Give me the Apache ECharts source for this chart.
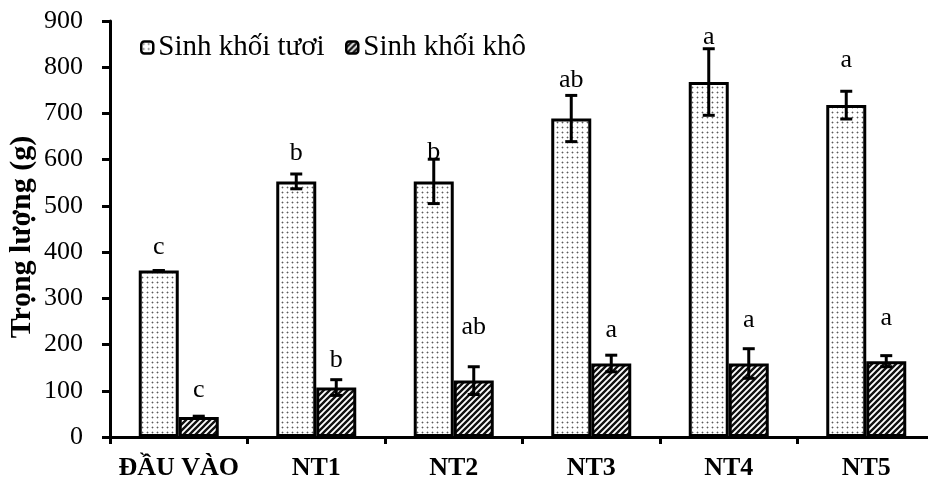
<!DOCTYPE html>
<html>
<head>
<meta charset="utf-8">
<script src="https://cdn.jsdelivr.net/npm/echarts@6/dist/echarts.min.js"></script>
<style>html,body{margin:0;padding:0;background:#fff}#c{width:928px;height:480px}</style>
</head>
<body>
<div id="c"></div>
<script>
const categories = ['ĐẦU VÀO', 'NT1', 'NT2', 'NT3', 'NT4', 'NT5'];
const seriesNames = ['Sinh khối tươi', 'Sinh khối khô'];
const freshMean = [360, 553, 553, 689, 768, 718];
const freshSD = [0, 16, 48, 50, 72, 30];
const freshLetters = ['c', 'b', 'b', 'ab', 'a', 'a'];
const freshLetterAt = [411, 614, 616, 772, 865, 815];
const dryMean = [43, 107, 122, 159, 159, 164];
const drySD = [2, 17, 30, 18, 32, 12];
const dryLetters = ['c', 'b', 'ab', 'a', 'a', 'a'];
const dryLetterAt = [102, 167, 238, 231, 253, 257];
const yTicks = [0, 100, 200, 300, 400, 500, 600, 700, 800, 900];

const FONT = '"Liberation Serif", "Times New Roman", serif';
const BAR_W = 40;

function dotPattern() {
  const c = document.createElement('canvas');
  c.width = 5; c.height = 5;
  const g = c.getContext('2d');
  g.fillStyle = '#fff'; g.fillRect(0, 0, 5, 5);
  g.fillStyle = '#5a5a5a'; g.fillRect(2, 2, 1, 1);
  g.fillStyle = '#c4c4c4'; g.fillRect(1, 2, 1, 1); g.fillRect(2, 1, 1, 1); g.fillRect(3, 2, 1, 1); g.fillRect(2, 3, 1, 1);
  return c;
}
function hatchPattern() {
  const s = 6;
  const c = document.createElement('canvas');
  c.width = s; c.height = s;
  const g = c.getContext('2d');
  g.fillStyle = '#fff'; g.fillRect(0, 0, s, s);
  g.strokeStyle = '#111'; g.lineWidth = 2.4;
  g.beginPath();
  g.moveTo(-1, s + 1); g.lineTo(s + 1, -1);
  g.moveTo(-s / 2 - 1, s / 2 + 1); g.lineTo(s / 2 + 1, -s / 2 - 1);
  g.moveTo(s / 2 - 1, s * 1.5 + 1); g.lineTo(s * 1.5 + 1, s / 2 - 1);
  g.stroke();
  return c;
}

const freshStyle = { color: { image: dotPattern(), repeat: 'repeat' }, borderColor: '#000', borderWidth: 3 };
const dryStyle = { color: { image: hatchPattern(), repeat: 'repeat' }, borderColor: '#000', borderWidth: 3 };

function errData(mean, sd) { return mean.map((m, i) => [i, m, sd[i]]); }
function letterData(at, letters) { return at.map((v, i) => [i, v, letters[i]]); }

function errRender(offset) {
  return function (params, api) {
    const i = api.value(0), m = api.value(1), s = api.value(2);
    const c = api.coord([i, m]);
    const x = c[0] + offset;
    const yt = api.coord([i, m + s])[1];
    const yb = api.coord([i, m - s])[1];
    const st = { stroke: '#000', lineWidth: 3 };
    const hw = 6;
    return {
      type: 'group',
      children: [
        { type: 'line', shape: { x1: x, y1: yt, x2: x, y2: yb }, style: st },
        { type: 'line', shape: { x1: x - hw, y1: yt, x2: x + hw, y2: yt }, style: st },
        { type: 'line', shape: { x1: x - hw, y1: yb, x2: x + hw, y2: yb }, style: st }
      ]
    };
  };
}
function letterRender(offset, letters) {
  return function (params, api) {
    const i = api.value(0), v = api.value(1);
    const c = api.coord([i, v]);
    return {
      type: 'text',
      style: {
        x: c[0] + offset, y: c[1], text: letters[i],
        fill: '#000', font: '26px ' + FONT, align: 'center', verticalAlign: 'middle'
      }
    };
  };
}

const legendBase = { top: 33, padding: 0, itemWidth: 12, itemHeight: 12, itemGap: 5,
  itemStyle: { borderWidth: 2.5, borderColor: '#000' },
  textStyle: { fontSize: 29, fontFamily: FONT, color: '#000', padding: [0, 0, 0, 0] } };

const chart = echarts.init(document.getElementById('c'), null, { renderer: 'canvas' });
chart.setOption({
  animation: false,
  backgroundColor: '#fff',
  textStyle: { fontFamily: FONT },
  legend: [
    Object.assign({ data: [seriesNames[0]], left: 140 }, legendBase),
    Object.assign({ data: [seriesNames[1]], left: 345 }, legendBase)
  ],
  grid: { left: 110, right: -7, top: 21, bottom: 43, containLabel: false, outerBoundsMode: 'none' },
  xAxis: {
    type: 'category', data: categories,
    axisLine: { lineStyle: { color: '#000', width: 3 } },
    axisTick: { show: true, length: 7, lineStyle: { color: '#000', width: 3 } },
    axisLabel: { interval: 0, color: '#000', fontSize: 26, fontWeight: 'bold', fontFamily: FONT, margin: 18 }
  },
  yAxis: {
    type: 'value', min: 0, max: 900, interval: 100,
    name: 'Trọng lượng (g)', nameLocation: 'middle', nameGap: 73, nameMoveOverlap: false,
    nameTextStyle: { color: '#000', fontSize: 30, fontWeight: 'bold', fontFamily: FONT, padding: [0, 0, 0, -16] },
    axisLine: { show: true, lineStyle: { color: '#000', width: 3 } },
    axisTick: { show: true, length: 8, lineStyle: { color: '#000', width: 3 } },
    axisLabel: { color: '#000', fontSize: 26, fontFamily: FONT, margin: 27,
      formatter: v => yTicks.includes(v) ? String(v) : '' },
    splitLine: { show: false }
  },
  series: [
    { name: seriesNames[0], type: 'bar', data: freshMean, barWidth: BAR_W, barGap: '0%', itemStyle: freshStyle, z: 2 },
    { name: seriesNames[1], type: 'bar', data: dryMean, barWidth: BAR_W, barGap: '0%', itemStyle: dryStyle, z: 2 },
    { type: 'custom', data: errData(freshMean, freshSD), renderItem: errRender(-BAR_W / 2), z: 5, silent: true },
    { type: 'custom', data: errData(dryMean, drySD), renderItem: errRender(BAR_W / 2), z: 5, silent: true },
    { type: 'custom', data: letterData(freshLetterAt, freshLetters), renderItem: letterRender(-BAR_W / 2, freshLetters), z: 6, silent: true },
    { type: 'custom', data: letterData(dryLetterAt, dryLetters), renderItem: letterRender(BAR_W / 2, dryLetters), z: 6, silent: true }
  ]
});
</script>
</body>
</html>
